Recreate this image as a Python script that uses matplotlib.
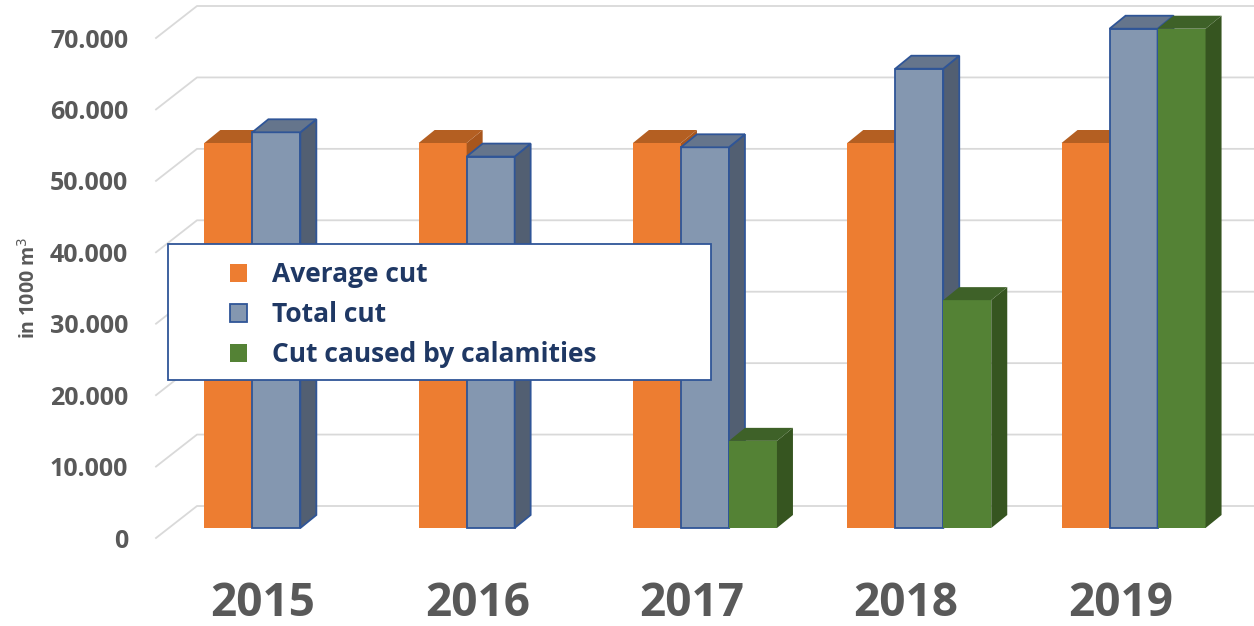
import matplotlib.pyplot as plt
from matplotlib.patches import Polygon, Rectangle, Patch
import numpy as np

plt.rcParams['font.family'] = ['Open Sans', 'DejaVu Sans']

years = ['2015', '2016', '2017', '2018', '2019']
average_cut = [53900, 53900, 53900, 53900, 53900]
total_cut = [55400, 52000, 53300, 64300, 69900]
calamity_cut = [0, 0, 12200, 31900, 69900]
series_names = ['Average cut', 'Total cut', 'Cut caused by calamities']
yticks = [0, 10000, 20000, 30000, 40000, 50000, 60000, 70000]

# face, top, side, edge
styles = [
    ('#ED7D31', '#B45F22', '#A8561D', None),
    ('#8497B0', '#65758C', '#525F72', '#2F5597'),
    ('#548235', '#3E6128', '#365520', None),
]

W, H = 1254, 626
fig = plt.figure(figsize=(W / 100, H / 100), dpi=100)
# front wall in pixels: x 156..1227.5, y(0)=538, y(70k)=38
ax = fig.add_axes([156 / W, (H - 538) / H, 1071.5 / W, 500 / H])
ax.set_xlim(-0.5, 4.5)
ax.set_ylim(0, 70000)

px_x = 1071.5 / 5          # pixels per category
px_y = 500 / 70000         # pixels per value unit
def dxp(p): return p / px_x
def dyp(p): return p / px_y

# back wall offset and bar depth
wall_dx, wall_dy = dxp(41), dyp(32)
bar_x0, bar_y0 = dxp(13.2), dyp(10)
depth_dx, depth_dy = dxp(16), dyp(13)

# gridlines on the back wall plus diagonal on the side
for v in yticks:
    ax.plot([-0.5, -0.5 + wall_dx, 5.0], [v, v + wall_dy, v + wall_dy],
            color='#D9D9D9', lw=1.3, clip_on=False, zorder=0)

bw = 0.224
offsets = [-bw, 0, bw]
data = [average_cut, total_cut, calamity_cut]
z = 2
for i in range(len(years)):
    for s in range(3):
        val = data[s][i]
        if val <= 0:
            continue
        face, top, side, edge = styles[s]
        x0 = i + offsets[s] - bw / 2 + bar_x0
        x1 = x0 + bw
        b = bar_y0
        t = bar_y0 + val
        ec = edge if edge else face
        lw = 1.3 if edge else 0
        ax.bar(x0, val, width=bw, bottom=b, align='edge', color=face,
               edgecolor=ec, linewidth=lw, zorder=z, clip_on=False)
        ax.add_patch(Polygon([(x1, b), (x1, t), (x1 + depth_dx, t + depth_dy),
                              (x1 + depth_dx, b + depth_dy)], closed=True,
                             facecolor=side, edgecolor=ec, lw=lw, zorder=z,
                             clip_on=False))
        ax.add_patch(Polygon([(x0, t), (x1, t), (x1 + depth_dx, t + depth_dy),
                              (x0 + depth_dx, t + depth_dy)], closed=True,
                             facecolor=top, edgecolor=ec, lw=lw, zorder=z,
                             clip_on=False))
        z += 1

for sp in ax.spines.values():
    sp.set_visible(False)
ax.set_yticks(yticks)
ax.set_yticklabels([f'{v:,}'.replace(',', '.') for v in yticks],
                   fontsize=18, fontweight='bold', color='#595959')
ax.set_xticks(range(len(years)))
ax.set_xticklabels(years, fontsize=33, fontweight='bold', color='#595959')
ax.tick_params(axis='y', length=0, pad=20)
ax.tick_params(axis='x', length=0, pad=30)
ax.set_ylabel('in 1000 m$^3$', fontsize=14, fontweight='bold',
              color='#595959')
ax.yaxis.set_label_coords(-0.108, 0.5)

# legend box
fig.patches.append(Rectangle((168 / W, (H - 380) / H), 543 / W, 136 / H,
                             transform=fig.transFigure, facecolor='white',
                             edgecolor='#2F5597', lw=1.3, zorder=5))
handles = [Patch(facecolor=styles[k][0],
                 edgecolor=styles[k][3] if styles[k][3] else styles[k][0],
                 lw=1.3 if styles[k][3] else 0) for k in range(3)]
leg = fig.legend(handles, series_names, loc='upper left',
                 bbox_to_anchor=(230 / W, (H - 261) / H), frameon=False,
                 borderpad=0, borderaxespad=0, handlelength=0.66,
                 handleheight=0.66, handletextpad=0.95, labelspacing=0.5,
                 prop={'size': 19, 'weight': 'bold'})
leg.set_zorder(6)
for txt in leg.get_texts():
    txt.set_color('#1F3864')

fig.savefig('out.png', dpi=100)
